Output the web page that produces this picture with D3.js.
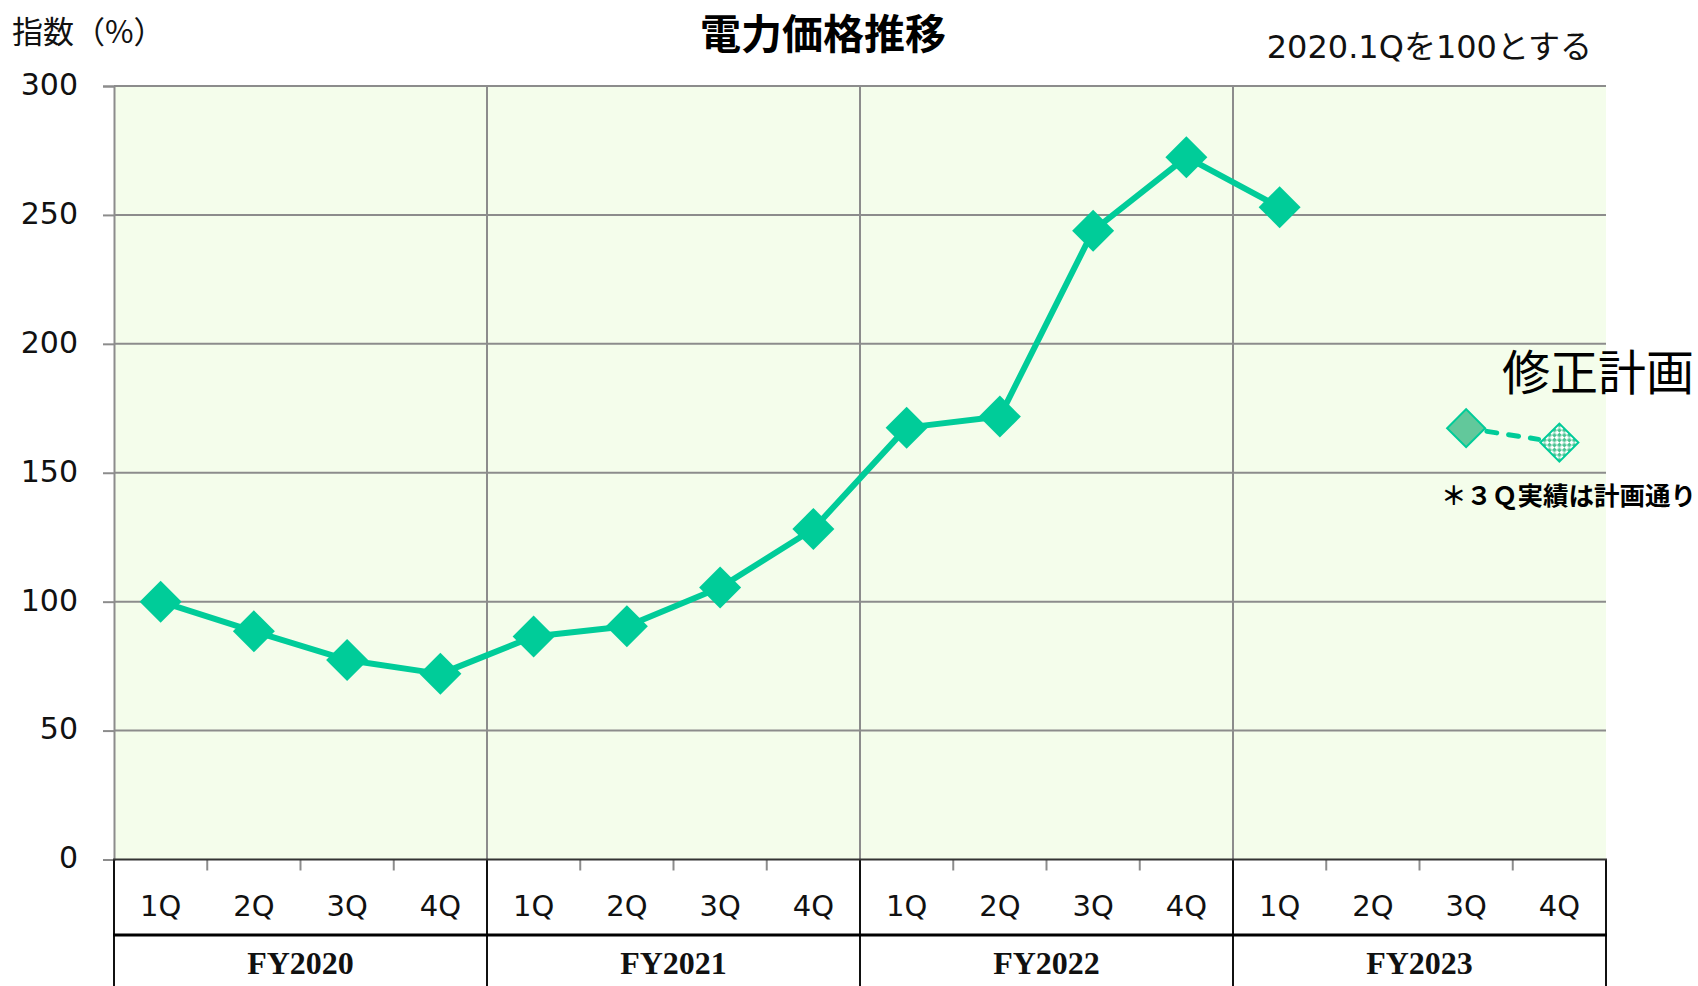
<!DOCTYPE html>
<html>
<head>
<meta charset="utf-8">
<script src="https://d3js.org/d3.v7.min.js"></script>
<style>
  html, body { margin: 0; padding: 0; background: #fff; }
  svg { display: block; }
</style>
</head>
<body>
<svg id="chart"></svg>
<script>
// values
const fiscalYears = ['FY2020', 'FY2021', 'FY2022', 'FY2023']
const quarters = ['1Q', '2Q', '3Q', '4Q']
// actual index, 2020.1Q = 100 (FY2020 1Q .. FY2023 1Q)
const actualValues = [100, 88.5, 77.4, 72.0, 86.5, 90.5, 105.5, 128.2, 167.5, 171.8, 243.9, 272.4, 253.0]
// revised plan (FY2023 3Q, 4Q)
const planValues = [167.3, 161.7]
const planQuarters = ['3Q', '4Q']
const planYear = 'FY2023'
const yTicks = [0, 50, 100, 150, 200, 250, 300]

const width = 1698, height = 986
const plotLeft = 114, plotRight = 1606, plotTop = 86, plotBottom = 859.5
const qRowBottom = 935, fyRowBottom = 1010
const green = '#00CC99'
const latin = '"DejaVu Sans", "Noto Sans CJK JP", sans-serif'
const jp = '"Noto Sans CJK JP", sans-serif'

const categories = []
fiscalYears.forEach(fy => quarters.forEach(q => categories.push(fy + '-' + q)))

const x = d3.scaleBand().domain(categories).range([plotLeft, plotRight])
const fyScale = d3.scaleBand().domain(fiscalYears).range([plotLeft, plotRight])
const y = d3.scaleLinear().domain([0, 300]).range([plotBottom, plotTop])

const svg = d3.select('#chart').attr('width', width).attr('height', height)

const defs = svg.append('defs')
let pat = defs.append('pattern')
    .attr('id', 'checker')
    .attr('patternUnits', 'userSpaceOnUse')
    .attr('width', 7).attr('height', 7)
pat.append('rect').attr('width', 7).attr('height', 7).attr('fill', '#ffffff')
pat.append('rect').attr('width', 3.5).attr('height', 3.5).attr('fill', '#4cc493')
pat.append('rect').attr('x', 3.5).attr('y', 3.5).attr('width', 3.5).attr('height', 3.5).attr('fill', '#4cc493')

// plot background
svg.append('rect')
    .attr('x', plotLeft).attr('y', plotTop)
    .attr('width', plotRight - plotLeft).attr('height', plotBottom - plotTop)
    .attr('fill', '#F4FDEB')

// horizontal grid
svg.append('g').selectAll('line')
    .data(yTicks.filter(d => d > 0))
    .enter().append('line')
    .attr('x1', plotLeft).attr('x2', plotRight)
    .attr('y1', d => y(d)).attr('y2', d => y(d))
    .style('stroke', '#8c8c8c')
    .style('stroke-width', '2px')

// vertical grid at fiscal year boundaries
svg.append('g').selectAll('line')
    .data(fiscalYears.slice(1))
    .enter().append('line')
    .attr('x1', d => fyScale(d)).attr('x2', d => fyScale(d))
    .attr('y1', plotTop).attr('y2', plotBottom)
    .style('stroke', '#8c8c8c')
    .style('stroke-width', '2px')

// y axis
let yAxis = svg.append('g')
    .attr('transform', 'translate(' + plotLeft + ',0)')
    .call(d3.axisLeft(y).tickValues(yTicks).tickSize(11).tickPadding(25))
yAxis.select('.domain').attr('stroke', '#8c8c8c').attr('stroke-width', 2)
yAxis.selectAll('.tick line').attr('stroke', '#8c8c8c').attr('stroke-width', 2)
yAxis.selectAll('.tick text')
    .style('font-family', latin)
    .style('font-size', '30px')
    .attr('fill', '#111')
    .attr('dy', '0.28em')

// category table under the plot
let table = svg.append('g')
let boundaries = categories.map(c => x(c)).concat([plotRight])
table.selectAll('line.qtick')
    .data(boundaries)
    .enter().append('line')
    .attr('class', 'qtick')
    .attr('x1', d => d).attr('x2', d => d)
    .attr('y1', plotBottom).attr('y2', plotBottom + 11)
    .style('stroke', '#8c8c8c')
    .style('stroke-width', '2px')

let fyEdges = fiscalYears.map(f => fyScale(f)).concat([plotRight])
table.selectAll('line.fyline')
    .data(fyEdges)
    .enter().append('line')
    .attr('class', 'fyline')
    .attr('x1', d => d).attr('x2', d => d)
    .attr('y1', plotBottom).attr('y2', fyRowBottom)
    .style('stroke', '#111')
    .style('stroke-width', '2px')

table.append('line')
    .attr('x1', plotLeft - 1).attr('x2', plotRight + 1)
    .attr('y1', plotBottom).attr('y2', plotBottom)
    .style('stroke', '#333')
    .style('stroke-width', '2px')

table.append('line')
    .attr('x1', plotLeft - 1).attr('x2', plotRight + 1)
    .attr('y1', qRowBottom).attr('y2', qRowBottom)
    .style('stroke', '#000')
    .style('stroke-width', '3px')

table.selectAll('text.q')
    .data(categories)
    .enter().append('text')
    .attr('class', 'q')
    .attr('x', d => x(d) + x.bandwidth() / 2)
    .attr('y', 916)
    .attr('text-anchor', 'middle')
    .style('font-family', latin)
    .style('font-size', '29px')
    .style('fill', '#111')
    .text(d => d.split('-')[1])

table.selectAll('text.fy')
    .data(fiscalYears)
    .enter().append('text')
    .attr('class', 'fy')
    .attr('x', d => fyScale(d) + fyScale.bandwidth() / 2)
    .attr('y', 974)
    .attr('text-anchor', 'middle')
    .style('font-family', '"Liberation Serif", "Times New Roman", serif')
    .style('font-weight', 'bold')
    .style('font-size', '32px')
    .style('fill', '#111')
    .text(d => d)

// actual series
let actualPoints = actualValues.map((v, i) => ({ key: categories[i], value: v }))
let lineFunc = d3.line()
    .x(d => x(d.key) + x.bandwidth() / 2)
    .y(d => y(d.value))

svg.append('path')
    .datum(actualPoints)
    .attr('d', lineFunc)
    .style('fill', 'none')
    .style('stroke', green)
    .style('stroke-width', '6px')
    .style('stroke-linejoin', 'round')

let bigDiamond = d3.symbol().type(d3.symbolSquare).size(2 * 21 * 21)
svg.append('g').selectAll('path')
    .data(actualPoints)
    .enter().append('path')
    .attr('d', bigDiamond)
    .attr('transform', d => 'translate(' + (x(d.key) + x.bandwidth() / 2) + ',' + y(d.value) + ') rotate(45)')
    .style('fill', green)

// revised plan
let planPoints = planValues.map((v, i) => ({ key: planYear + '-' + planQuarters[i], value: v }))
let px = planPoints.map(d => x(d.key) + x.bandwidth() / 2)
let py = planPoints.map(d => y(d.value))
let ang = Math.atan2(py[1] - py[0], px[1] - px[0])
let r0 = 21
svg.append('line')
    .attr('x1', px[0] + r0 * Math.cos(ang)).attr('y1', py[0] + r0 * Math.sin(ang))
    .attr('x2', px[1] - r0 * Math.cos(ang)).attr('y2', py[1] - r0 * Math.sin(ang))
    .style('stroke', green)
    .style('stroke-width', '5px')
    .style('stroke-dasharray', '10,12')
    .style('stroke-linecap', 'round')

let planDiamond = d3.symbol().type(d3.symbolSquare).size(2 * 19 * 19)
svg.append('g').selectAll('path')
    .data(planPoints)
    .enter().append('path')
    .attr('d', planDiamond)
    .attr('transform', d => 'translate(' + (x(d.key) + x.bandwidth() / 2) + ',' + y(d.value) + ') rotate(45)')
    .style('fill', (d, i) => i === 0 ? '#62C89B' : 'url(#checker)')
    .style('stroke', green)
    .style('stroke-width', '2px')

// texts
svg.append('text')
    .attr('x', 823).attr('y', 49)
    .attr('text-anchor', 'middle')
    .style('font-family', jp)
    .style('font-weight', 'bold')
    .style('font-size', '41px')
    .style('fill', '#000')
    .text('電力価格推移')

svg.append('text')
    .attr('x', 12).attr('y', 43)
    .style('font-family', jp)
    .style('font-size', '31px')
    .style('fill', '#111')
    .text('指数（%）')

svg.append('text')
    .attr('x', 1592).attr('y', 58)
    .attr('text-anchor', 'end')
    .style('font-family', latin)
    .style('font-size', '32px')
    .style('fill', '#111')
    .text('2020.1Qを100とする')

svg.append('text')
    .attr('x', 1502).attr('y', 390)
    .style('font-family', jp)
    .style('font-size', '48px')
    .style('fill', '#000')
    .text('修正計画')

svg.append('text')
    .attr('x', 1441).attr('y', 505)
    .style('font-family', jp)
    .style('font-weight', 'bold')
    .style('font-size', '25.5px')
    .style('fill', '#000')
    .text('＊３Ｑ実績は計画通り')
</script>
</body>
</html>
